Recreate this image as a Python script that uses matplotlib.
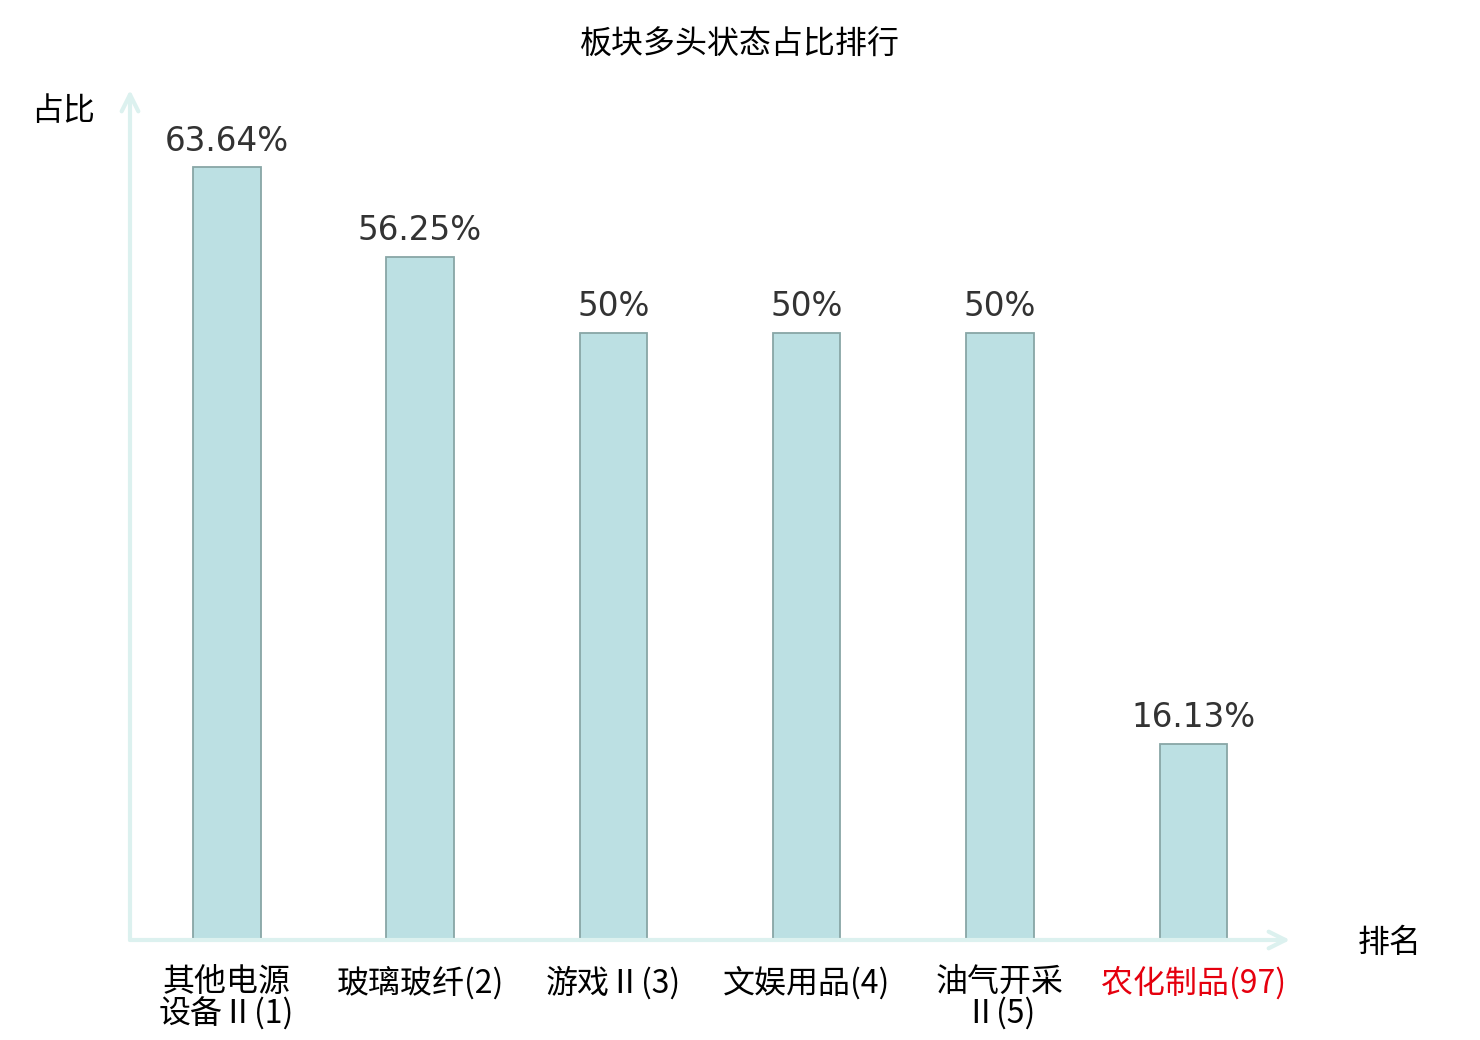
import numpy as np
import matplotlib.pyplot as plt

plt.rcParams['font.family'] = ['Noto Sans CJK SC', 'DejaVu Sans']

# data
names = ["其他电源\n设备Ⅱ(1)", "玻璃玻纤(2)", "游戏Ⅱ(3)", "文娱用品(4)", "油气开采\nⅡ(5)", "农化制品(97)"]
ratios = [63.64, 56.25, 50, 50, 50, 16.13]
ratio_text = ["63.64%", "56.25%", "50%", "50%", "50%", "16.13%"]

fig = plt.figure(figsize=(14.8, 10.4), dpi=100)
ax = fig.add_axes([130 / 1480, 100 / 1040, 1160 / 1480, 850 / 1040])

x = np.arange(len(names))
ax.bar(x, ratios, width=0.35, color='#bce0e3', edgecolor='#88a6a6', linewidth=1.3)

for xi, v, t in zip(x, ratios, ratio_text):
    ax.annotate(t, (xi, v), xytext=(0, 7), textcoords='offset points',
                ha='center', va='bottom', fontsize=23.5, color='#333333',
                family='DejaVu Sans')

ax.set_xlim(-0.5, 5.5)
ax.set_ylim(0, 70)
for s in ax.spines.values():
    s.set_visible(False)
ax.set_yticks([])
ax.set_xticks(x)
ax.set_xticklabels(names, fontsize=23, linespacing=0.95, fontweight='light')
ax.tick_params(axis='x', length=0, pad=19)
ax.get_xticklabels()[-1].set_color('#e5000e')

# axis arrows
axis_col = '#dcf1ef'
ax.annotate('', xy=(1.0, 0), xytext=(0, 0), xycoords='axes fraction',
            arrowprops=dict(arrowstyle='->', color=axis_col, lw=3,
                            mutation_scale=30, shrinkA=0, shrinkB=0))
ax.annotate('', xy=(0, 1.0), xytext=(0, 0), xycoords='axes fraction',
            arrowprops=dict(arrowstyle='->', color=axis_col, lw=3,
                            mutation_scale=30, shrinkA=0, shrinkB=0))

fig.text(63 / 1480, 1 - 111 / 1040, "占比", fontsize=23, ha='center', va='center')
fig.text(1390 / 1480, 1 - 943 / 1040, "排名", fontsize=23, ha='center', va='center')
fig.text(0.5, 1 - 45 / 1040, "板块多头状态占比排行", fontsize=23, ha='center', va='center')

fig.savefig("out.png", dpi=100)
